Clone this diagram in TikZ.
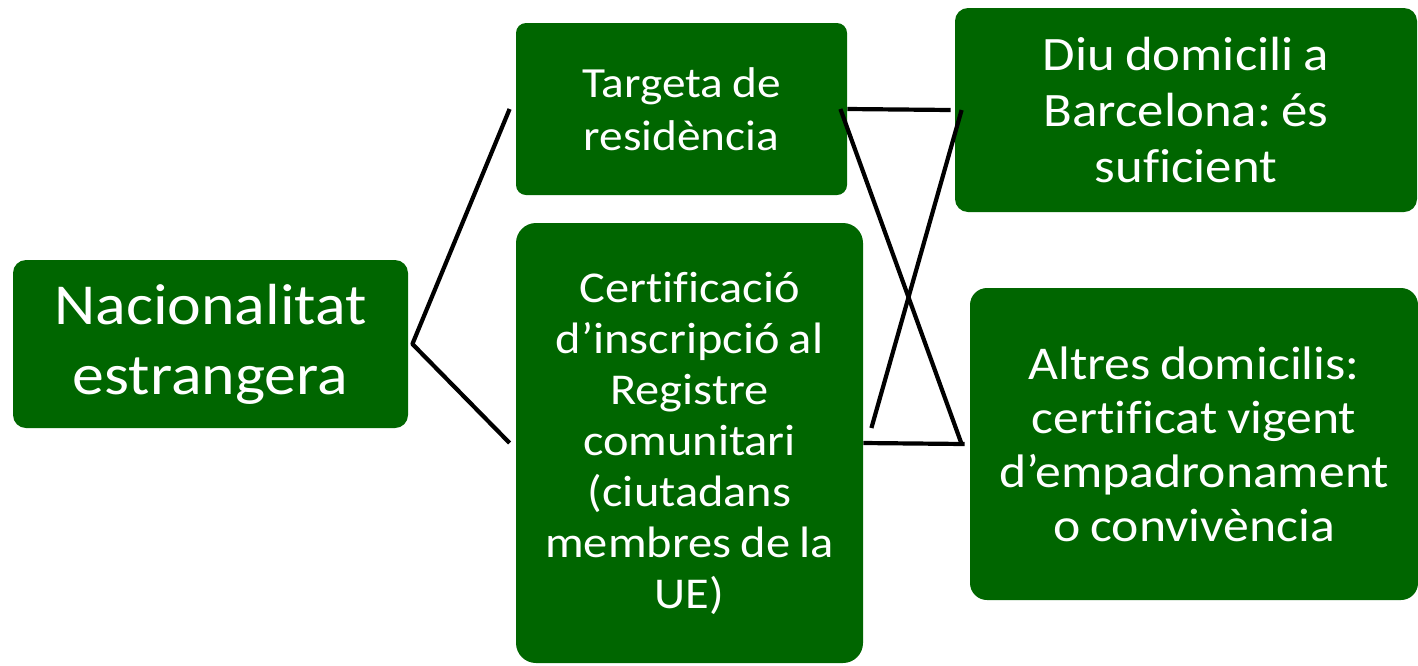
\documentclass[tikz,border=0pt]{standalone}
\usepackage{fontspec}
\setmainfont{Carlito}[FakeStretch=1.1, Ligatures=NoCommon, WordSpace={0.85,0,0}]
\definecolor{verd}{RGB}{0,102,0}
\frenchspacing
\begin{document}
\begin{tikzpicture}[x=.5pt, y=-.5pt, line join=round,
	caixa/.style={fill=verd, text=white, align=center, inner sep=0pt},
	linia/.style={line width=2.1pt, black}]
	\useasboundingbox (0,0) rectangle (1418,665);
	\node[caixa, rounded corners=6.5pt, minimum width=197.5pt, minimum height=84pt,
		font=\fontsize{29}{35}\selectfont] (nac) at (210.5,344) {Nacionalitat\\estrangera};
	\node[caixa, rounded corners=5pt, minimum width=165.5pt, minimum height=86pt,
		font=\fontsize{21.5}{26.5}\selectfont] (targ) at (681.5,109) {Targeta de\\resid\`encia};
	\node[caixa, rounded corners=10pt, minimum width=173.5pt, minimum height=220pt,
		font=\fontsize{22}{25.5}\selectfont] (cert) at (689.5,443)
		{Certificaci\'o\\d’inscripci\'o al\\Registre\\comunitari\\(ciutadans\\membres de la\\UE)};
	\node[caixa, rounded corners=6.5pt, minimum width=231pt, minimum height=102pt,
		font=\fontsize{24}{28}\selectfont] (diu) at (1186,110) {Diu domicili a\\Barcelona: \'es\\suficient};
	\node[caixa, rounded corners=8.5pt, minimum width=224pt, minimum height=156pt,
		font=\fontsize{23.5}{27}\selectfont] (alt) at (1194,444)
		{Altres domicilis:\\certificat vigent\\d’empadronament\\o conviv\`encia};
	% connectors
	\draw[linia] ([xshift=-3pt]targ.west) -- ([xshift=2pt]nac.east) -- ([xshift=-3pt]cert.west);
	\draw[linia] (targ.east) -- ([xshift=-2pt]diu.west);
	\draw[linia] ([xshift=-3.5pt]targ.east) -- ([xshift=-4pt]alt.west);
	\draw[linia] ([xshift=3.5pt]diu.west) -- ([xshift=4pt,yshift=7.5pt]cert.east);
	\draw[linia] (cert.east) -- ([xshift=-2.5pt]alt.west);
\end{tikzpicture}
\end{document}
